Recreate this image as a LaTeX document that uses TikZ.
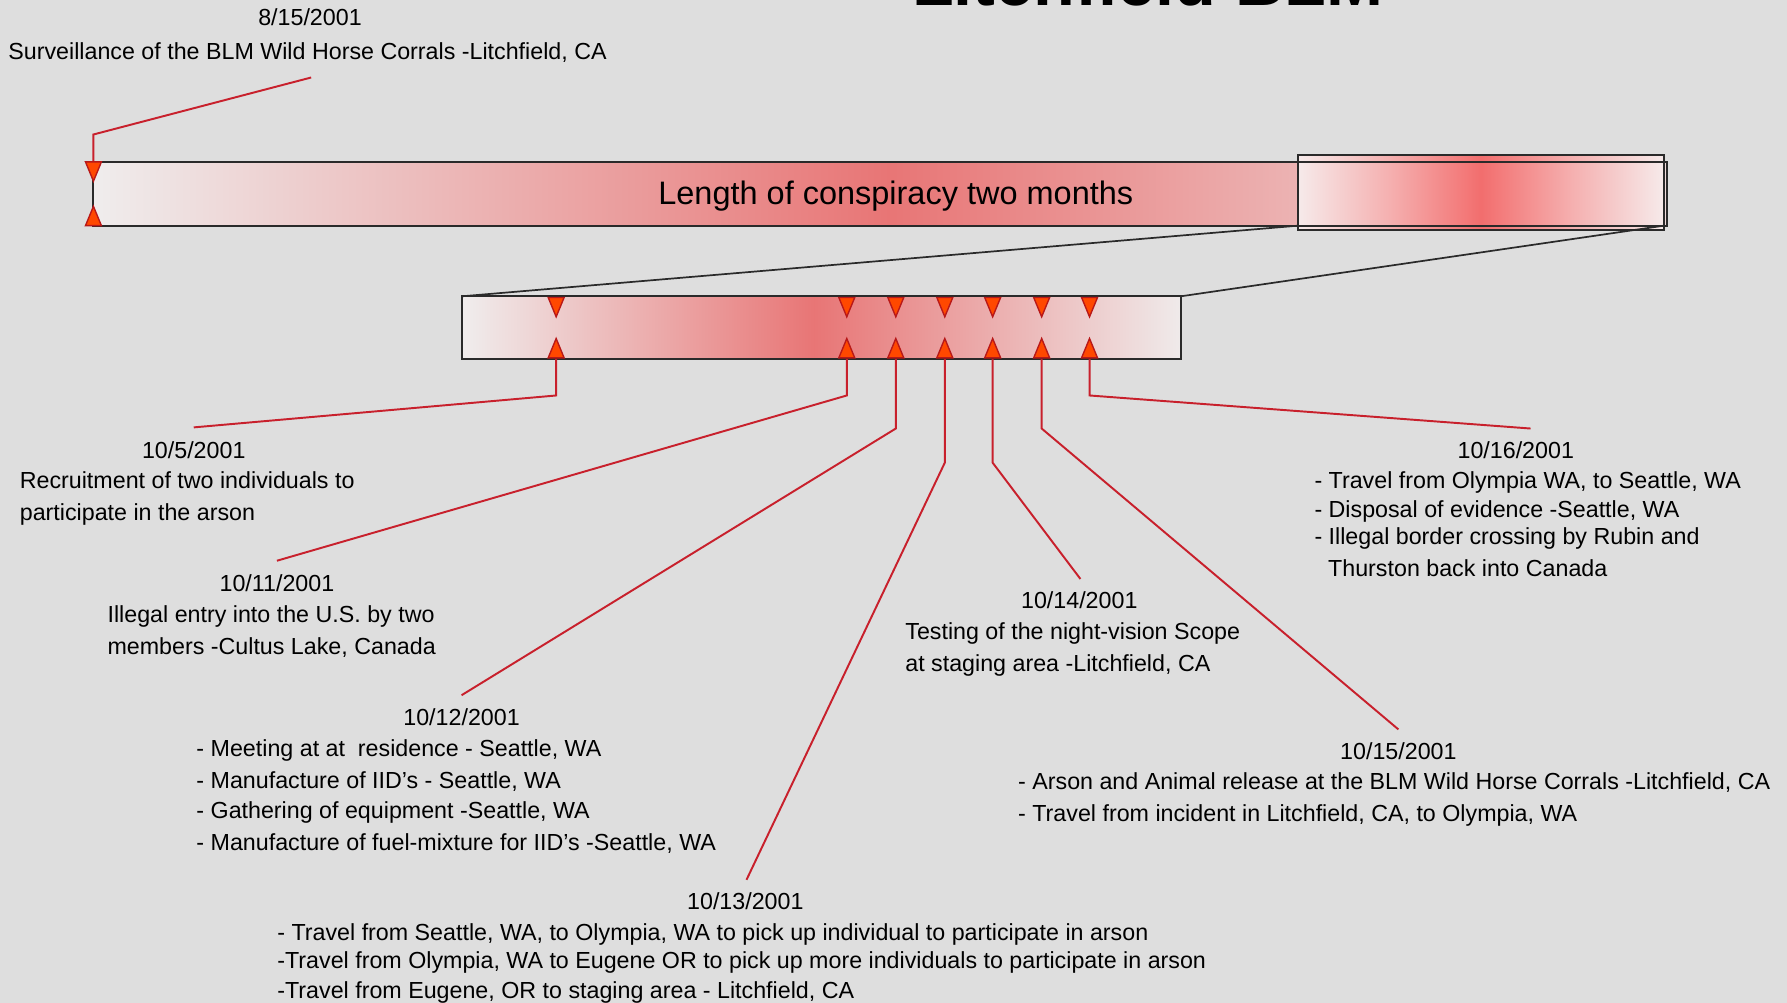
\documentclass[tikz,border=0pt]{standalone}
\usepackage{fontspec}
\setmainfont{Liberation Sans}
\definecolor{bg}{HTML}{DEDEDE}
\definecolor{linered}{HTML}{C8202C}
\definecolor{trifill}{HTML}{FF4800}
\definecolor{tridraw}{HTML}{B81818}
\definecolor{barline}{HTML}{2A2A2A}
\pgfdeclarehorizontalshading{topbarsh}{100bp}{rgb(0bp)=(0.937,0.929,0.929); rgb(25bp)=(0.937,0.929,0.929); rgb(50.25bp)=(0.91,0.46,0.46); rgb(63.5bp)=(0.925,0.706,0.706); rgb(75bp)=(0.94,0.86,0.86); rgb(100bp)=(0.94,0.86,0.86)}
\pgfdeclarehorizontalshading{lowbarsh}{100bp}{rgb(0bp)=(0.94,0.93,0.93); rgb(25bp)=(0.94,0.93,0.93); rgb(49.5bp)=(0.91,0.46,0.46); rgb(75bp)=(0.937,0.918,0.918); rgb(100bp)=(0.937,0.918,0.918)}
\pgfdeclarehorizontalshading{boxsh}{100bp}{rgb(0bp)=(0.965,0.918,0.918); rgb(25bp)=(0.965,0.918,0.918); rgb(37.5bp)=(0.96,0.69,0.69); rgb(50bp)=(0.95,0.43,0.43); rgb(62.5bp)=(0.96,0.69,0.69); rgb(75bp)=(0.965,0.918,0.918); rgb(100bp)=(0.965,0.918,0.918)}
\tikzset{
  bar/.style={draw=barline, line width=0.9pt, inner sep=0pt, outer sep=0pt, anchor=north west},
  tri/.style={fill=trifill, draw=tridraw, line width=0.6pt, line join=miter},
  conn/.style={draw=linered, line width=0.85pt},
  link/.style={draw=barline, line width=0.75pt},
  txt/.style={font=\fontsize{10.2pt}{12pt}\selectfont, inner sep=0pt, anchor=base west},
  datelbl/.style={font=\fontsize{10.2pt}{12pt}\selectfont, inner sep=0pt, anchor=base},
  tridown/.pic={\path[tri] (-7,0) -- (7,0) -- (0,17) -- cycle;},
  triup/.pic={\path[tri] (-7,0) -- (7,0) -- (0,-17) -- cycle;},
}
\begin{document}
\begin{tikzpicture}[x=0.5pt,y=-0.5pt]
\useasboundingbox (0,0) rectangle (1568,880);
\clip (0,0) rectangle (1568,880);
\fill[bg] (0,0) rectangle (1568,880);

% title (cut off at top, as in the reference)
\node[font=\fontsize{30pt}{32pt}\selectfont\bfseries, inner sep=0pt, anchor=base] (title) at (1007,5) {Litchfield BLM};

% top bar
\node[bar, shading=topbarsh, minimum width=690.5pt, minimum height=28pt] (topbar) at (82,142) {};
\node[font=\fontsize{14.25pt}{16pt}\selectfont, inner sep=0pt, anchor=base] (toplbl) at (786,179) {Length of conspiracy two months};
% zoom box
\node[bar, shading=boxsh, minimum width=160.5pt, minimum height=33pt] (box) at (1139,136) {};
\draw[barline, line width=0.9pt] (box.west |- topbar.north) -- (topbar.north east) -- (topbar.south east) -- (box.west |- topbar.south);

% lower bar
\node[bar, shading=lowbarsh, minimum width=315.5pt, minimum height=27.5pt] (low) at (405,260) {};
\draw[link] (box.west |- topbar.south) -- (low.north west);
\draw[link] (box.east |- topbar.south) -- (low.north east);

% marker points and label anchors
\coordinate (m0815) at (82,142);
\coordinate (e0815) at (273,68);
\coordinate (m05) at (488,315);  \coordinate (e05) at (170,375);
\coordinate (m11) at (743,315);  \coordinate (e11) at (243,492);
\coordinate (m12) at (786,315);  \coordinate (e12) at (405,610);
\coordinate (m13) at (829,315);  \coordinate (e13) at (655,772);
\coordinate (m14) at (871,315);  \coordinate (e14) at (948,508);
\coordinate (m15) at (914,315);  \coordinate (e15) at (1227,640);
\coordinate (m16) at (956,315);  \coordinate (e16) at (1343,376);

% connectors
\draw[conn] (m0815) -- ++(0,-24) -- (e0815);
\draw[conn] (m05) -- ++(0,32) -- (e05);
\draw[conn] (m11) -- ++(0,32) -- (e11);
\draw[conn] (m12) -- ++(0,61) -- (e12);
\draw[conn] (m13) -- ++(0,91) -- (e13);
\draw[conn] (m14) -- ++(0,91) -- (e14);
\draw[conn] (m15) -- ++(0,61) -- (e15);
\draw[conn] (m16) -- ++(0,32) -- (e16);

% triangles
\pic at (82,142) {tridown};
\pic at (82,198) {triup};
\foreach \x in {488,743,786,829,871,914,956} {
  \pic at (\x,261) {tridown};
  \pic at (\x,314) {triup};
}

% texts
\node[datelbl] (d0815) at (272,22) {8/15/2001};
\node[txt] (t0815) at (7,52) {Surveillance of the BLM Wild Horse Corrals -Litchfield, CA};

\node[datelbl] (d05) at (170,402) {10/5/2001};
\node[txt] (t05a) at (17,429) {Recruitment of two individuals to};
\node[txt] (t05b) at (17,457) {participate in the arson};

\node[datelbl] (d11) at (243,519) {10/11/2001};
\node[txt] (t11a) at (94,546) {Illegal entry into the U.S. by two};
\node[txt] (t11b) at (94,574) {members -Cultus Lake, Canada};

\node[datelbl] (d12) at (405,637) {10/12/2001};
\node[txt] (t12a) at (172,664) {- Meeting at at\ \ residence - Seattle, WA};
\node[txt] (t12b) at (172,692) {- Manufacture of IID’s - Seattle, WA};
\node[txt] (t12c) at (172,718) {- Gathering of equipment -Seattle, WA};
\node[txt] (t12d) at (172,746) {- Manufacture of fuel-mixture for IID’s -Seattle, WA};

\node[datelbl] (d13) at (654,798) {10/13/2001};
\node[txt] (t13a) at (243,825) {- Travel from Seattle, WA, to Olympia, WA to pick up individual to participate in arson};
\node[txt] (t13b) at (243,850) {-Travel from Olympia, WA to Eugene OR to pick up more individuals to participate in arson};
\node[txt] (t13c) at (243,876) {-Travel from Eugene, OR to staging area - Litchfield, CA};

\node[datelbl] (d14) at (947,534) {10/14/2001};
\node[txt] (t14a) at (794,561) {Testing of the night-vision Scope};
\node[txt] (t14b) at (794,589) {at staging area -Litchfield, CA};

\node[datelbl] (d15) at (1227,666) {10/15/2001};
\node[txt] (t15a) at (893,693) {- Arson and Animal release at the BLM Wild Horse Corrals -Litchfield, CA};
\node[txt] (t15b) at (893,721) {- Travel from incident in Litchfield, CA, to Olympia, WA};

\node[datelbl] (d16) at (1330,402) {10/16/2001};
\node[txt] (t16a) at (1153,429) {- Travel from Olympia WA, to Seattle, WA};
\node[txt] (t16b) at (1153,454) {- Disposal of evidence -Seattle, WA};
\node[txt] (t16c) at (1153,478) {- Illegal border crossing by Rubin and};
\node[txt] (t16d) at (1165,506) {Thurston back into Canada};
\end{tikzpicture}
\end{document}
